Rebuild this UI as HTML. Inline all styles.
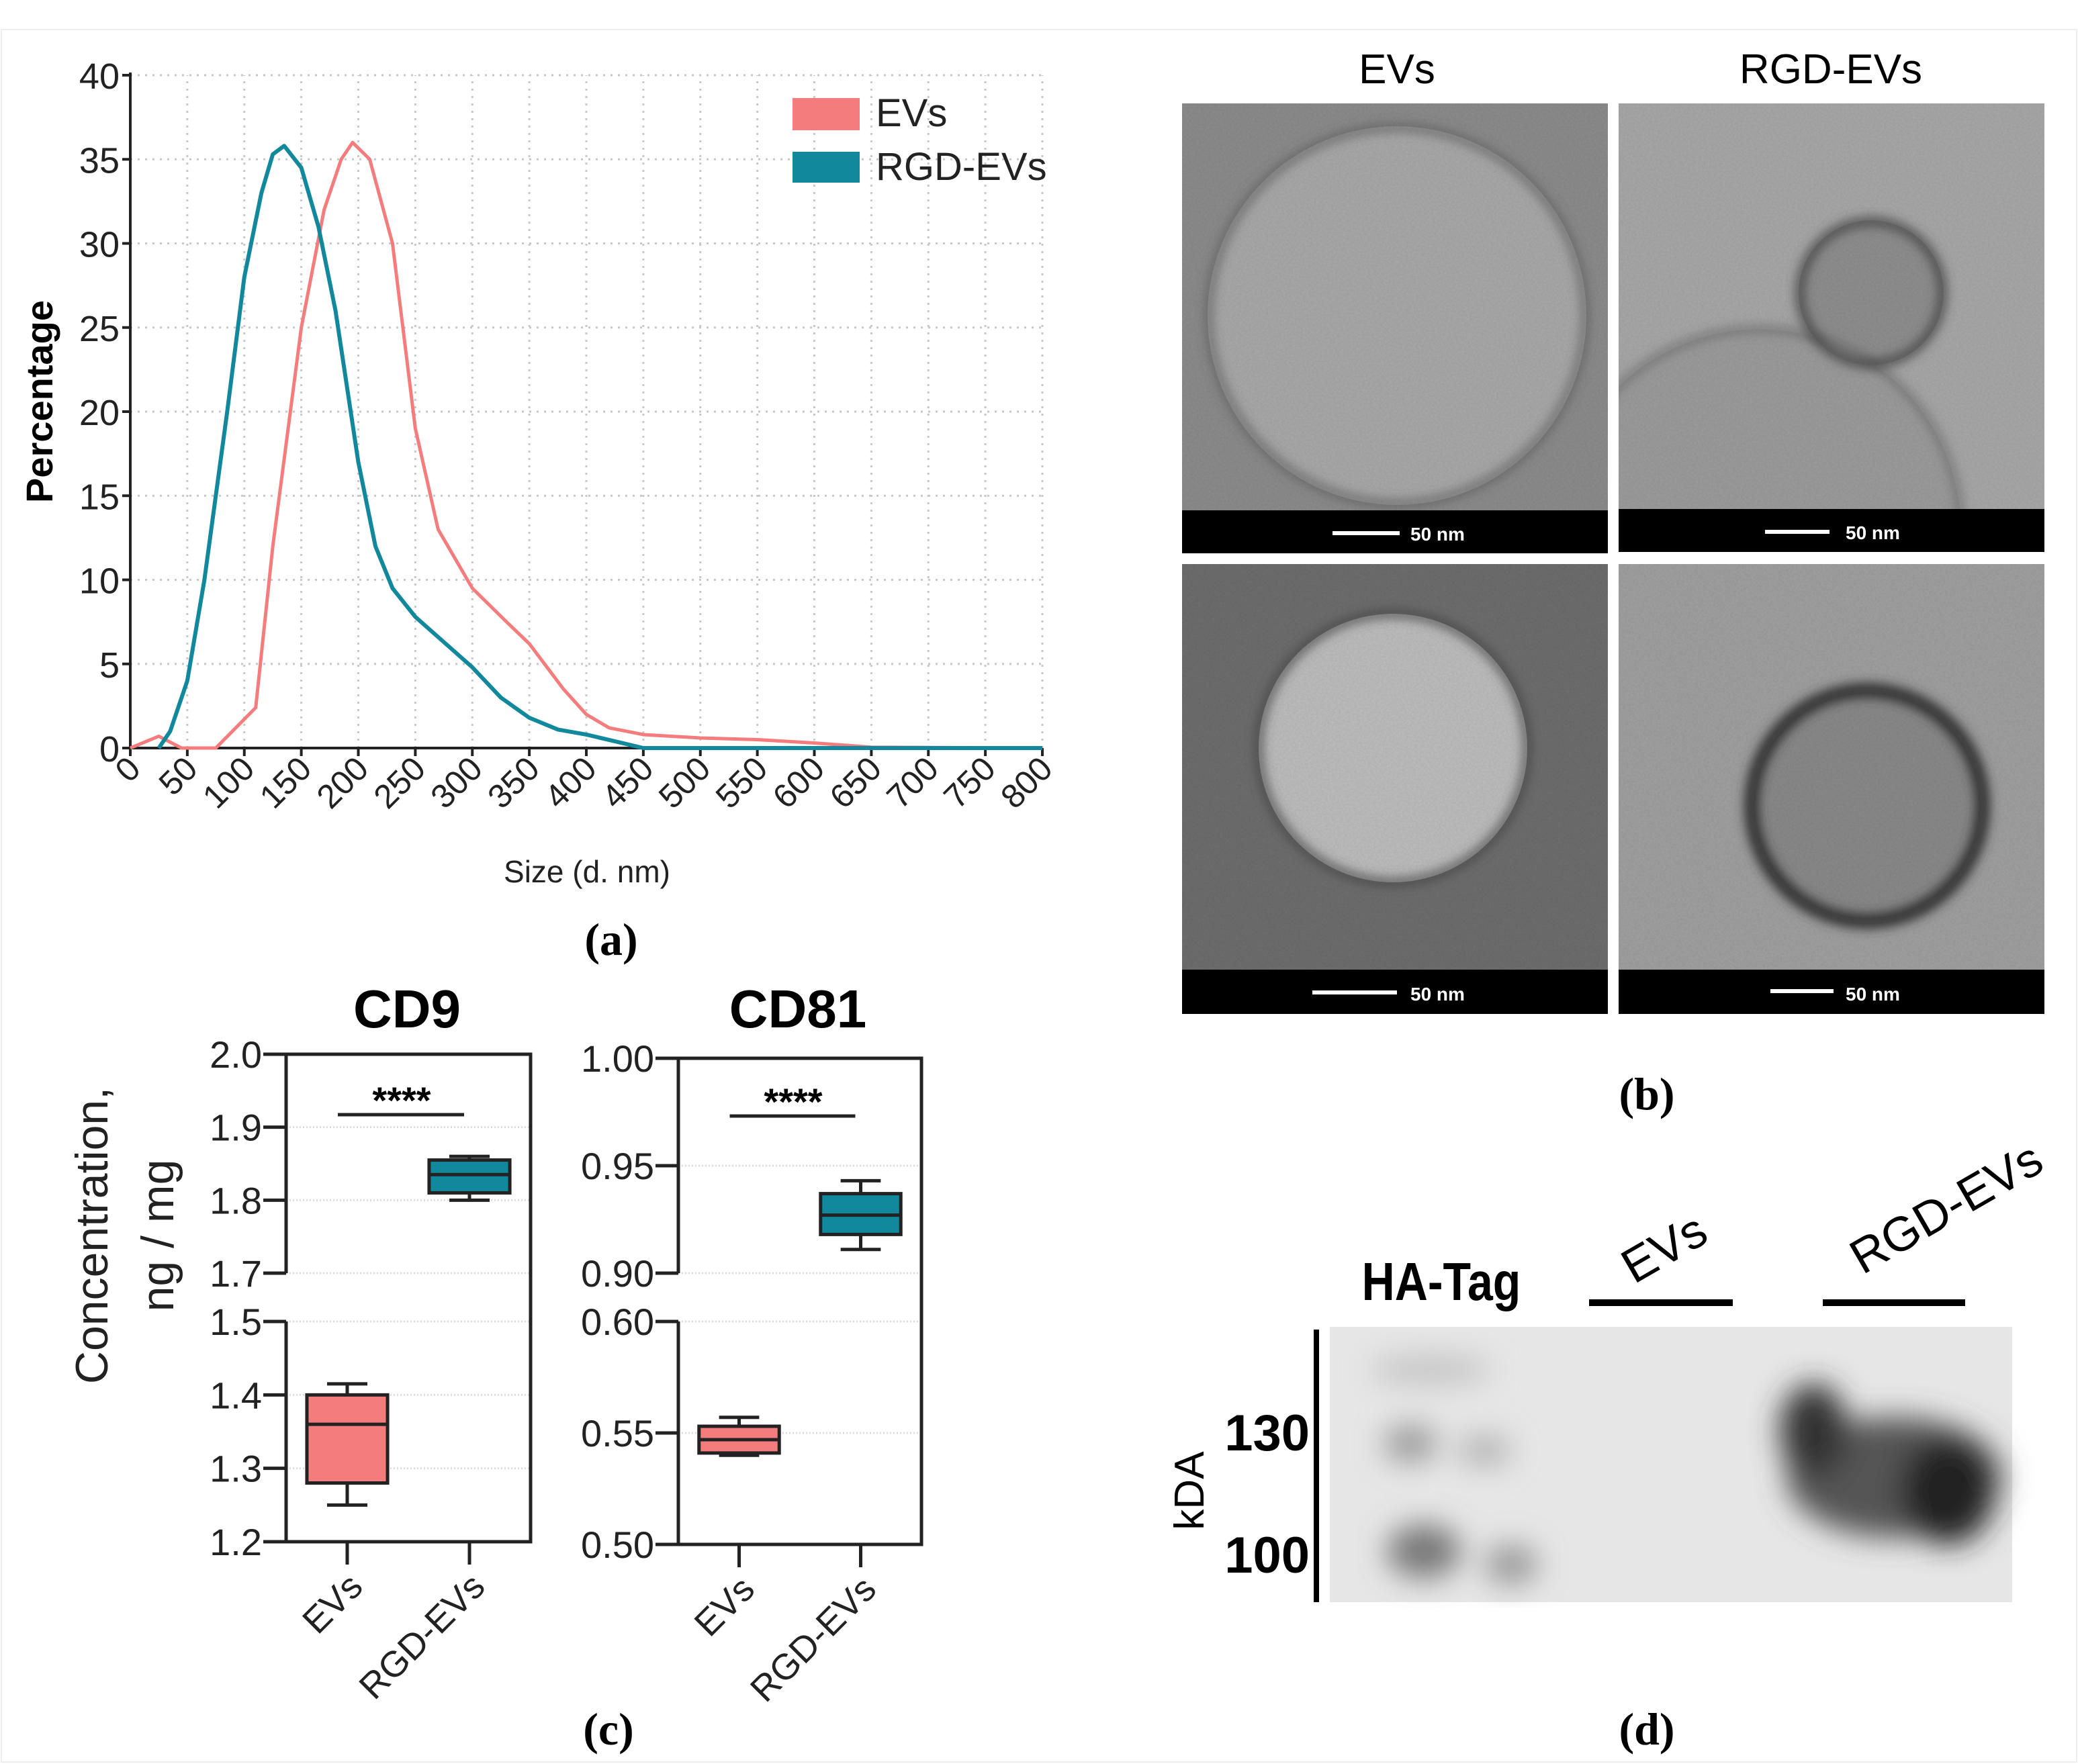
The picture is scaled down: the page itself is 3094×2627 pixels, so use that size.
<!DOCTYPE html>
<html><head><meta charset="utf-8">
<style>
html,body{margin:0;padding:0;background:#fff;}
svg{display:block;}
text{font-family:"Liberation Sans",sans-serif;}
.serif{font-family:"Liberation Serif",serif;font-weight:bold;}
</style></head>
<body>
<svg id="fig" xmlns="http://www.w3.org/2000/svg" width="3094" height="2627" viewBox="0 0 3094 2627">
<defs>
<filter id="noise" x="0" y="0" width="100%" height="100%">
<feTurbulence type="fractalNoise" baseFrequency="0.35" numOctaves="2" seed="3" result="n"/>
<feColorMatrix in="n" type="matrix" values="0 0 0 0 0.5  0 0 0 0 0.5  0 0 0 0 0.5  0 0 0 0.35 0" result="g"/>
<feBlend in="SourceGraphic" in2="g" mode="multiply"/>
</filter>
<filter id="blur8"><feGaussianBlur stdDeviation="8"/></filter>
<filter id="blur20"><feGaussianBlur stdDeviation="22"/></filter>
<clipPath id="c1"><rect x="1760" y="154" width="634" height="608"/></clipPath>
<clipPath id="c2"><rect x="2410" y="154" width="634" height="606"/></clipPath>
<clipPath id="c3"><rect x="1760" y="840" width="634" height="604"/></clipPath>
<clipPath id="c4"><rect x="2410" y="840" width="634" height="604"/></clipPath>
</defs>
<rect x="2" y="44" width="3090" height="2580" fill="none" stroke="#eee" stroke-width="2"/>

<!-- Panel a -->
<g id="panelA"></g>
<text x="910" y="1422" font-size="68" text-anchor="middle" class="serif">(a)</text>

<!-- Panel b: TEM images -->
<g>
<text x="2080" y="124" font-size="62" text-anchor="middle">EVs</text>
<text x="2726" y="124" font-size="62" text-anchor="middle">RGD-EVs</text>
<g>
<g clip-path="url(#c1)">
<g filter="url(#noise)"><rect x="1760" y="154" width="634" height="608" fill="#8c8c8c"/>
<circle cx="2080" cy="470" r="282" fill="#a9a9a9"/></g>
<circle cx="2080" cy="470" r="280" fill="none" stroke="#555" stroke-width="8" filter="url(#blur8)"/></g>
<rect x="1760" y="760" width="634" height="64" fill="#000"/>
<line x1="1984" y1="794" x2="2084" y2="794" stroke="#fff" stroke-width="6"/>
<text x="2100" y="805" font-size="28" font-weight="bold" fill="#fff">50 nm</text></g>
<g>
<g clip-path="url(#c2)">
<g filter="url(#noise)"><rect x="2410" y="154" width="634" height="606" fill="#a8a8a8"/>
<circle cx="2620" cy="790" r="300" fill="#9c9c9c"/>
<circle cx="2786" cy="436" r="108" fill="#8f8f8f"/></g>
<circle cx="2620" cy="790" r="300" fill="none" stroke="#666" stroke-width="8" filter="url(#blur8)"/>
<circle cx="2786" cy="436" r="106" fill="none" stroke="#444" stroke-width="12" filter="url(#blur8)"/></g>
<rect x="2410" y="758" width="634" height="64" fill="#000"/>
<line x1="2628" y1="792" x2="2724" y2="792" stroke="#fff" stroke-width="6"/>
<text x="2748" y="803" font-size="28" font-weight="bold" fill="#fff">50 nm</text></g>
<g>
<g clip-path="url(#c3)">
<g filter="url(#noise)"><rect x="1760" y="840" width="634" height="604" fill="#6e6e6e"/>
<circle cx="2074" cy="1114" r="200" fill="#bdbdbd"/></g>
<circle cx="2074" cy="1114" r="200" fill="none" stroke="#444" stroke-width="10" filter="url(#blur8)"/></g>
<rect x="1760" y="1444" width="634" height="66" fill="#000"/>
<line x1="1954" y1="1478" x2="2080" y2="1478" stroke="#fff" stroke-width="6"/>
<text x="2100" y="1490" font-size="28" font-weight="bold" fill="#fff">50 nm</text></g>
<g>
<g clip-path="url(#c4)">
<g filter="url(#noise)"><rect x="2410" y="840" width="634" height="604" fill="#a0a0a0"/>
<circle cx="2780" cy="1200" r="170" fill="#8a8a8a"/></g>
<circle cx="2780" cy="1200" r="172" fill="none" stroke="#333" stroke-width="22" filter="url(#blur8)"/></g>
<rect x="2410" y="1444" width="634" height="66" fill="#000"/>
<line x1="2636" y1="1476" x2="2730" y2="1476" stroke="#fff" stroke-width="6"/>
<text x="2748" y="1490" font-size="28" font-weight="bold" fill="#fff">50 nm</text></g>
<text x="2452" y="1652" font-size="68" text-anchor="middle" class="serif">(b)</text>
</g>

<!-- Panel c -->
<g id="panelC"></g>
<text x="906" y="2598" font-size="68" text-anchor="middle" class="serif">(c)</text>

<!-- Panel d: western blot -->
<g>
<rect x="1980" y="1976" width="1016" height="410" fill="#e6e6e6"/>
<g filter="url(#blur20)">
<ellipse cx="2130" cy="2040" rx="90" ry="22" fill="#c4c4c4"/>
<ellipse cx="2100" cy="2150" rx="40" ry="28" fill="#9a9a9a"/>
<ellipse cx="2210" cy="2160" rx="40" ry="22" fill="#b0b0b0"/>
<ellipse cx="2120" cy="2310" rx="55" ry="40" fill="#777"/>
<ellipse cx="2250" cy="2330" rx="40" ry="30" fill="#999"/>
<ellipse cx="2820" cy="2200" rx="160" ry="90" fill="#555"/>
<ellipse cx="2700" cy="2130" rx="50" ry="70" fill="#333"/>
<ellipse cx="2900" cy="2220" rx="70" ry="80" fill="#222"/>
</g>
<line x1="1960" y1="1980" x2="1960" y2="2386" stroke="#000" stroke-width="8"/>
<text x="2146" y="1936" font-size="80" font-weight="bold" text-anchor="middle" transform="translate(2146,1936) scale(0.85,1) translate(-2146,-1936)">HA-Tag</text>
<text x="0" y="0" font-size="72" text-anchor="middle" transform="translate(2490,1880) rotate(-30)">EVs</text>
<text x="0" y="0" font-size="72" text-anchor="middle" transform="translate(2910,1820) rotate(-30)">RGD-EVs</text>
<line x1="2366" y1="1940" x2="2580" y2="1940" stroke="#000" stroke-width="10"/>
<line x1="2714" y1="1940" x2="2926" y2="1940" stroke="#000" stroke-width="10"/>
<text x="0" y="0" font-size="62" text-anchor="middle" transform="translate(1792,2220) rotate(-90)">kDA</text>
<text x="1950" y="2160" font-size="76" font-weight="bold" text-anchor="end">130</text>
<text x="1950" y="2342" font-size="76" font-weight="bold" text-anchor="end">100</text>
<text x="2452" y="2598" font-size="68" text-anchor="middle" class="serif">(d)</text>
</g>
</svg>
<script>
// ---------- Panel (a) data ----------
const evSizes = [0,25,45,75,110,125,150,170,185,195,210,230,250,270,300,330,350,380,400,420,450,500,550,600,650,800];
const evPct   = [0,0.7,0,0,2.4,12,25,32,35,36,35,30,19,13,9.5,7.5,6.2,3.5,2,1.2,0.8,0.6,0.5,0.3,0.05,0];
const rgdSizes = [25,35,50,65,85,100,115,125,135,150,165,180,200,215,230,250,275,300,325,350,375,400,425,450,800];
const rgdPct   = [0,1,4,10,20,28,33,35.3,35.8,34.5,31,26,17,12,9.5,7.8,6.3,4.8,3,1.8,1.1,0.8,0.4,0,0];
const xTicksA = [0,50,100,150,200,250,300,350,400,450,500,550,600,650,700,750,800];
const yTicksA = [0,5,10,15,20,25,30,35,40];
// ---------- Panel (c) data ----------
const cdCategories = ["EVs","RGD-EVs"];
const cd9Stats = [[1.25,1.28,1.36,1.40,1.415],[1.80,1.81,1.835,1.855,1.86]]; // min,q1,med,q3,max
const cd81Stats = [[0.540,0.541,0.547,0.553,0.557],[0.911,0.918,0.927,0.937,0.943]];
const cd9TicksLow = ["1.2","1.3","1.4","1.5"], cd9TicksHigh = ["1.7","1.8","1.9","2.0"];
const cd81TicksLow = ["0.50","0.55","0.60"], cd81TicksHigh = ["0.90","0.95","1.00"];

const NS = "http://www.w3.org/2000/svg";
function mk(tag, attrs, parent, txt){const e=document.createElementNS(NS,tag);for(const k in attrs)e.setAttribute(k,attrs[k]);if(txt!==undefined)e.textContent=txt;parent.appendChild(e);return e;}

// Panel A
(function(){
const g=document.getElementById('panelA');
const X0=194,X1=1552,Y0=1114,Y1=112;
const sx=v=>X0+(v/800)*(X1-X0), sy=v=>Y0-(v/40)*(Y0-Y1);
yTicksA.forEach(t=>{
 if(t>0){const l=mk('line',{x1:X0,x2:X1,y1:sy(t),y2:sy(t),stroke:'#c8c8c8','stroke-width':3,'stroke-dasharray':'3 8'},g);
 
 }
 mk('line',{x1:X0-12,x2:X0,y1:sy(t),y2:sy(t),stroke:'#222','stroke-width':4},g);
 const tx=mk('text',{x:X0-16,y:sy(t)+20,'font-size':54,'text-anchor':'end',fill:'#222'},g,String(t));
 
 
});
xTicksA.forEach(t=>{
 if(t>0){const l=mk('line',{x1:sx(t),x2:sx(t),y1:Y0,y2:Y1,stroke:'#c8c8c8','stroke-width':3,'stroke-dasharray':'3 8'},g);
 
 }
 mk('line',{x1:sx(t),x2:sx(t),y1:Y0,y2:Y0+12,stroke:'#222','stroke-width':4},g);
 const tx=mk('text',{x:0,y:0,'font-size':50,'text-anchor':'end',fill:'#222',transform:`translate(${sx(t)+18},${Y0+34}) rotate(-45)`},g,String(t));
 
 
});
mk('line',{x1:X0,x2:X0,y1:Y1-4,y2:Y0,stroke:'#222','stroke-width':4},g);
mk('line',{x1:X0,x2:X1,y1:Y0,y2:Y0,stroke:'#222','stroke-width':4},g);
const ev=mk('polyline',{points:evSizes.map((s,i)=>sx(s)+','+sy(evPct[i])).join(' '),fill:'none',stroke:'#f47c7c','stroke-width':5,'stroke-linejoin':'round'},g);


const rg=mk('polyline',{points:rgdSizes.map((s,i)=>sx(s)+','+sy(rgdPct[i])).join(' '),fill:'none',stroke:'#12889c','stroke-width':6,'stroke-linejoin':'round'},g);


const yl=mk('text',{x:0,y:0,'font-size':56,'font-weight':'bold','text-anchor':'middle',transform:'translate(78,598) rotate(-90)'},g,'Percentage');


const xl=mk('text',{x:874,y:1314,'font-size':46,'text-anchor':'middle',fill:'#222'},g,'Size (d. nm)');


const l1=mk('rect',{x:1180,y:146,width:100,height:48,fill:'#f47c7c'},g);


const l2=mk('rect',{x:1180,y:226,width:100,height:46,fill:'#12889c'},g);


const t1=mk('text',{x:1304,y:188,'font-size':58,fill:'#222'},g,'EVs');


const t2=mk('text',{x:1304,y:268,'font-size':58,fill:'#222'},g,'RGD-EVs');


})();

// Panel C
(function(){
const g=document.getElementById('panelC');
function chart(cfg){
 const {xl,xr,yTop,yBrkHi,yBrkLo,yBot,hiMin,hiMax,loMin,loMax,ticksHi,ticksLo,stats,title,titleX,cats,gridHi,gridLo,starY,name}=cfg;
 const sy=v=> v>=hiMin ? yBrkHi-(v-hiMin)/(hiMax-hiMin)*(yBrkHi-yTop) : yBot-(v-loMin)/(loMax-loMin)*(yBot-yBrkLo);
 const cg=mk('g',{},g);
 
 
 gridHi.concat(gridLo).forEach(v=>{mk('line',{x1:xl,x2:xr,y1:sy(v),y2:sy(v),stroke:'#dcdcdc','stroke-width':3,'stroke-dasharray':'2 3'},cg);});
 mk('line',{x1:xl,x2:xl,y1:yTop,y2:yBrkHi,stroke:'#222','stroke-width':5},cg);
 mk('line',{x1:xl,x2:xl,y1:yBrkLo,y2:yBot,stroke:'#222','stroke-width':5},cg);
 mk('polyline',{points:`${xl},${yTop} ${xr},${yTop} ${xr},${yBot} ${xl},${yBot}`,fill:'none',stroke:'#222','stroke-width':5},cg);
 ticksHi.concat(ticksLo).forEach(t=>{const v=parseFloat(t);const y=sy(v);
  mk('line',{x1:xl-34,x2:xl,y1:y,y2:y,stroke:'#222','stroke-width':5},cg);
  const tx=mk('text',{x:xl-36,y:y+20,'font-size':56,'text-anchor':'end',fill:'#222'},cg,t);
  
  });
 const xs=[xl+(xr-xl)*0.25,xl+(xr-xl)*0.75];
 const cols=['#f47c7c','#12889c'];
 stats.forEach((s,i)=>{const x=xs[i],w=(xr-xl)*0.33;
  mk('line',{x1:x,x2:x,y1:sy(s[0]),y2:sy(s[4]),stroke:'#222','stroke-width':5},cg);
  mk('line',{x1:x-w*0.25,x2:x+w*0.25,y1:sy(s[0]),y2:sy(s[0]),stroke:'#222','stroke-width':5},cg);
  mk('line',{x1:x-w*0.25,x2:x+w*0.25,y1:sy(s[4]),y2:sy(s[4]),stroke:'#222','stroke-width':5},cg);
  const b=mk('rect',{x:x-w/2,y:sy(s[3]),width:w,height:sy(s[1])-sy(s[3]),fill:cols[i],stroke:'#222','stroke-width':5},cg);
  
  
  mk('line',{x1:x-w/2,x2:x+w/2,y1:sy(s[2]),y2:sy(s[2]),stroke:'#222','stroke-width':5},cg);
  mk('line',{x1:x,x2:x,y1:yBot,y2:yBot+34,stroke:'#222','stroke-width':5},cg);
  const lt=mk('text',{x:0,y:0,'font-size':54,'text-anchor':'end',fill:'#222',transform:`translate(${x+26},${yBot+70}) rotate(-45)`},cg,cats[i]);
  
  
 });
 mk('line',{x1:xs[0]-14,x2:xs[1]-8,y1:starY,y2:starY,stroke:'#222','stroke-width':5},cg);
 const st=mk('text',{x:(xs[0]+xs[1])/2-10,y:starY-2,'font-size':56,'font-weight':'bold','text-anchor':'middle'},cg,'****');
 
 
 const tt=mk('text',{x:titleX,y:1530,'font-size':80,'font-weight':'bold','text-anchor':'middle'},cg,title);
 
 
}
chart({name:'cd9-chart',xl:426,xr:790,yTop:1570,yBrkHi:1896,yBrkLo:1968,yBot:2296,hiMin:1.7,hiMax:2.0,loMin:1.2,loMax:1.5,
 ticksHi:cd9TicksHigh,ticksLo:cd9TicksLow,stats:cd9Stats,title:'CD9',titleX:606,cats:cdCategories,gridHi:[1.8,1.9,1.7],gridLo:[1.3,1.4,1.5],starY:1660});
chart({name:'cd81-chart',xl:1010,xr:1372,yTop:1576,yBrkHi:1896,yBrkLo:1968,yBot:2300,hiMin:0.9,hiMax:1.0,loMin:0.5,loMax:0.6,
 ticksHi:cd81TicksHigh,ticksLo:cd81TicksLow,stats:cd81Stats,title:'CD81',titleX:1188,cats:cdCategories,gridHi:[0.95,0.9],gridLo:[0.55,0.6],starY:1662});
const a=mk('text',{x:0,y:0,'font-size':68,'text-anchor':'middle',fill:'#222',transform:'translate(160,1840) rotate(-90)'},g,'Concentration,');


const b=mk('text',{x:0,y:0,'font-size':68,'text-anchor':'middle',fill:'#222',transform:'translate(258,1840) rotate(-90)'},g,'ng / mg');


})();
</script>
</body></html>
